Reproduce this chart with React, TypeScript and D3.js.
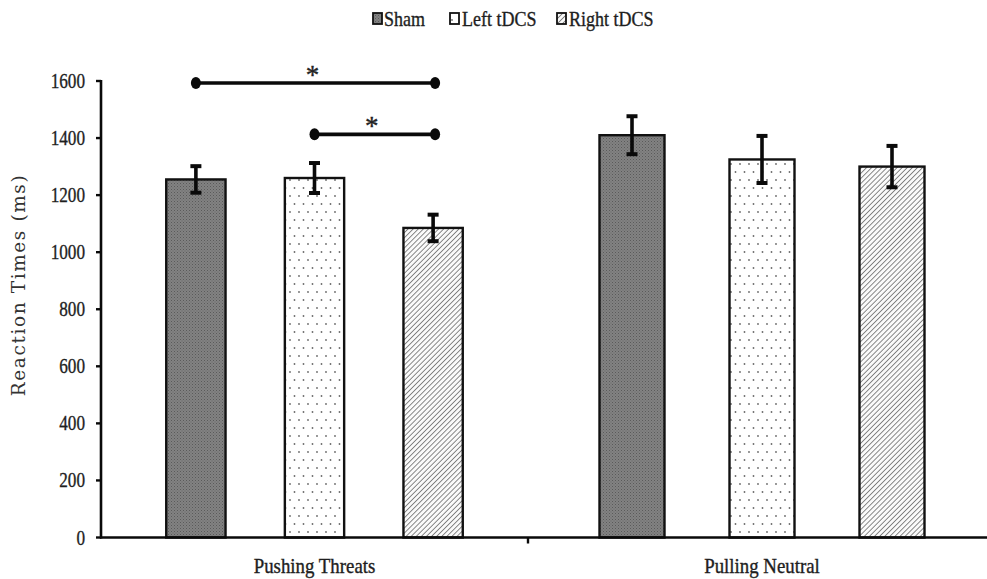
import React from "react";
import * as d3 from "d3";

// Reaction times (ms) per movement category and stimulation condition
const categories = ["Pushing Threats", "Pulling Neutral"];
const conditions = ["Sham", "Left tDCS", "Right tDCS"];
const shamMeans = [1255, 1410];
const leftMeans = [1260, 1325];
const rightMeans = [1085, 1300];
const shamErrors = [50, 70];
const leftErrors = [56, 86];
const rightErrors = [50, 76];
const yTicks = [0, 200, 400, 600, 800, 1000, 1200, 1400, 1600];

// Pairwise comparisons marked with an asterisk
const comparisonCategory = ["Pushing Threats", "Pushing Threats"];
const comparisonFrom = ["Sham", "Left tDCS"];
const comparisonTo = ["Right tDCS", "Right tDCS"];
const comparisonLevel = [1600, 1420];

const W = 987;
const H = 579;
const SERIF = "'Liberation Serif', 'Times New Roman', serif";

const meansBy: Record<string, number[]> = {
  Sham: shamMeans,
  "Left tDCS": leftMeans,
  "Right tDCS": rightMeans,
};
const errorsBy: Record<string, number[]> = {
  Sham: shamErrors,
  "Left tDCS": leftErrors,
  "Right tDCS": rightErrors,
};
const fillBy: Record<string, string> = {
  Sham: "url(#pat-sham)",
  "Left tDCS": "url(#pat-left)",
  "Right tDCS": "url(#pat-right)",
};

const y = d3.scaleLinear().domain([0, 1600]).range([537.5, 81]);

// Each category occupies its own span along the axis
const categorySpan = d3
  .scaleOrdinal<string, [number, number]>()
  .domain(categories)
  .range([
    [101, 528],
    [528, 996],
  ]);

const innerScale = (cat: string) =>
  d3
    .scaleBand<string>()
    .domain(conditions)
    .range(categorySpan(cat))
    .paddingInner(0.5)
    .paddingOuter(0.55);

// Text squeezed horizontally like the condensed serif of the figure
const Squeezed = ({
  x,
  y: ty,
  sx = 0.92,
  anchor = "start",
  size = 20,
  family = SERIF,
  children,
  fill = "#1e1e1e",
}: any) => (
  <text
    transform={`translate(${x},${ty}) scale(${sx},1)`}
    textAnchor={anchor}
    fontSize={size}
    fontFamily={family}
    fill={fill}
    stroke={fill}
    strokeWidth={0.35}
  >
    {children}
  </text>
);

export default function App() {
  const axisLeft = 101;
  const axisRight = W;
  const legendItems = [
    { name: "Sham", box: 373, text: 384 },
    { name: "Left tDCS", box: 450, text: 462 },
    { name: "Right tDCS", box: 557, text: 569 },
  ];

  return (
    <svg
      width={W}
      height={H}
      style={{ position: "absolute", left: 0, top: 0, background: "#fff" }}
    >
      <defs>
        <pattern id="pat-sham" width={3} height={3} patternUnits="userSpaceOnUse">
          <rect width={3} height={3} fill="#828282" />
          <rect x={0} y={0} width={1} height={1} fill="#5a5a5a" />
          <rect x={1.5} y={1.5} width={1} height={1} fill="#666" />
        </pattern>
        <pattern id="pat-left" width={9} height={16} patternUnits="userSpaceOnUse">
          <rect width={9} height={16} fill="#fff" />
          <circle cx={2} cy={4} r={0.9} fill="#6a6a6a" />
          <circle cx={6.5} cy={12} r={0.9} fill="#6a6a6a" />
        </pattern>
        <pattern
          id="pat-right"
          width={3.6}
          height={3.6}
          patternUnits="userSpaceOnUse"
          patternTransform="rotate(45)"
        >
          <rect width={3.6} height={3.6} fill="#fafafa" />
          <line x1={0} y1={0} x2={0} y2={3.6} stroke="#4a4a4a" strokeWidth={1.3} />
        </pattern>
      </defs>

      {/* legend */}
      {legendItems.map((d) => (
        <g key={d.name}>
          <rect
            x={d.box}
            y={13}
            width={9}
            height={11}
            fill={fillBy[d.name]}
            stroke="#111"
            strokeWidth={1.8}
          />
          <Squeezed x={d.text} y={26} size={20} sx={0.9}>
            {d.name}
          </Squeezed>
        </g>
      ))}

      {/* bars */}
      {categories.map((cat, ci) => {
        const xb = innerScale(cat);
        return conditions.map((cond) => {
          const mean = meansBy[cond][ci];
          const x0 = xb(cond)!;
          return (
            <rect
              key={cat + cond}
              x={x0}
              y={y(mean)}
              width={xb.bandwidth()}
              height={y(0) - y(mean)}
              fill={fillBy[cond]}
              stroke="#111"
              strokeWidth={2.4}
            />
          );
        });
      })}

      {/* error bars */}
      {categories.map((cat, ci) => {
        const xb = innerScale(cat);
        return conditions.map((cond) => {
          const mean = meansBy[cond][ci];
          const err = errorsBy[cond][ci];
          const cx = xb(cond)! + xb.bandwidth() / 2;
          const hi = y(mean + err);
          const lo = y(mean - err);
          return (
            <g key={"e" + cat + cond} stroke="#0a0a0a">
              <line x1={cx} x2={cx} y1={hi} y2={lo} strokeWidth={3.6} />
              <line x1={cx - 5.5} x2={cx + 5.5} y1={hi + 1} y2={hi + 1} strokeWidth={4} />
              <line x1={cx - 5.5} x2={cx + 5.5} y1={lo - 1} y2={lo - 1} strokeWidth={4} />
            </g>
          );
        });
      })}

      {/* significance brackets */}
      {comparisonLevel.map((lvl, i) => {
        const xb = innerScale(comparisonCategory[i]);
        const xa = xb(comparisonFrom[i])! + xb.bandwidth() / 2;
        const xz = xb(comparisonTo[i])! + xb.bandwidth() / 2 + 2;
        const yy = y(lvl) + 2;
        return (
          <g key={"sig" + i}>
            <line x1={xa} x2={xz} y1={yy} y2={yy} stroke="#0a0a0a" strokeWidth={3.6} />
            <ellipse cx={xa} cy={yy} rx={5} ry={6} fill="#0a0a0a" />
            <ellipse cx={xz} cy={yy} rx={5} ry={6} fill="#0a0a0a" />
            <text
              x={(xa + xz) / 2 - 3}
              y={yy + 1}
              textAnchor="middle"
              fontSize={27}
              fontFamily={SERIF}
              fill="#222"
              stroke="#222"
              strokeWidth={0.4}
            >
              *
            </text>
          </g>
        );
      })}

      {/* y axis */}
      <line
        x1={axisLeft}
        x2={axisLeft}
        y1={y(1600) - 1}
        y2={y(0) + 1}
        stroke="#0a0a0a"
        strokeWidth={2.6}
      />
      {yTicks.map((t) => (
        <g key={t}>
          <line x1={axisLeft - 5} x2={axisLeft} y1={y(t)} y2={y(t)} stroke="#0a0a0a" strokeWidth={2.4} />
          <Squeezed x={85} y={y(t) + 7} sx={0.8} anchor="end" size={21.5}>
            {t}
          </Squeezed>
        </g>
      ))}
      <text
        transform={`translate(25,${285}) rotate(-90)`}
        textAnchor="middle"
        fontSize={18.5}
        letterSpacing={1.6}
        fontFamily="'DejaVu Serif', serif"
        fill="#333"
      >
        Reaction Times (ms)
      </text>

      {/* x axis */}
      <line
        x1={axisLeft - 1}
        x2={axisRight}
        y1={y(0)}
        y2={y(0)}
        stroke="#0a0a0a"
        strokeWidth={2.6}
      />
      <line
        x1={categorySpan(categories[1])[0]}
        x2={categorySpan(categories[1])[0]}
        y1={y(0)}
        y2={y(0) + 6}
        stroke="#0a0a0a"
        strokeWidth={2.4}
      />
      {categories.map((cat) => {
        const xb = innerScale(cat);
        const mid = (xb(conditions[0])! + xb(conditions[2])! + xb.bandwidth()) / 2;
        return (
          <Squeezed key={cat} x={mid} y={573} anchor="middle" size={20.5}>
            {cat}
          </Squeezed>
        );
      })}
    </svg>
  );
}
